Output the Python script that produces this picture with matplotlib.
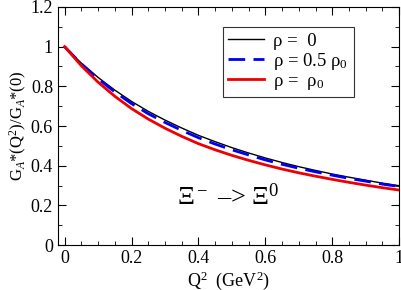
import numpy as np
import matplotlib
matplotlib.use("Agg")
import matplotlib.pyplot as plt
from matplotlib.ticker import MultipleLocator

plt.rcParams['font.family'] = ['Liberation Serif', 'DejaVu Serif']
plt.rcParams['mathtext.fontset'] = 'custom'
plt.rcParams['mathtext.rm'] = 'Liberation Serif'
plt.rcParams['mathtext.it'] = 'Liberation Serif:italic'

# values
q2 = [0.00, 0.05, 0.10, 0.15, 0.20, 0.25, 0.30, 0.35, 0.40, 0.45, 0.50,
      0.55, 0.60, 0.65, 0.70, 0.75, 0.80, 0.85, 0.90, 0.95, 1.00]
ga_rho0 = [1.000, 0.917, 0.845, 0.781, 0.724, 0.674, 0.630, 0.590, 0.553, 0.521, 0.491,
           0.464, 0.439, 0.416, 0.395, 0.376, 0.358, 0.342, 0.327, 0.312, 0.299]
ga_rho05 = [1.000, 0.913, 0.838, 0.772, 0.713, 0.662, 0.618, 0.578, 0.541, 0.509, 0.480,
            0.454, 0.429, 0.407, 0.387, 0.369, 0.352, 0.336, 0.322, 0.307, 0.295]
ga_rho1 = [1.000, 0.904, 0.821, 0.750, 0.688, 0.635, 0.589, 0.548, 0.511, 0.480, 0.452,
           0.427, 0.404, 0.383, 0.364, 0.347, 0.331, 0.316, 0.302, 0.289, 0.277]

labels = [r'ρ =  0', r'ρ = 0.5 ρ$_0$', r'ρ =  ρ$_0$']

fig = plt.figure(figsize=(4.02, 2.90), dpi=100)
ax = fig.add_axes([0.144, 0.155, 0.849, 0.821])

ax.plot(q2, ga_rho0, color='black', lw=1.0, label=labels[0])
ax.plot(q2, ga_rho05, color='#0000ee', lw=2.0, dashes=(6, 3), label=labels[1])
ax.plot(q2, ga_rho1, color='#ee0000', lw=2.0, label=labels[2])

ax.set_xlim(-0.02, 1.0)
ax.set_ylim(0, 1.2)
ax.xaxis.set_minor_locator(MultipleLocator(0.05))
ax.yaxis.set_minor_locator(MultipleLocator(0.1))
ax.set_xticks([0, 0.2, 0.4, 0.6, 0.8, 1.0])
ax.set_xticklabels(['0', '0.2', '0.4', '0.6', '0.8', '1'])
ax.set_yticks([0, 0.2, 0.4, 0.6, 0.8, 1.0, 1.2])
ax.set_yticklabels(['0', '0.2', '0.4', '0.6', '0.8', '1', '1.2'])
ax.tick_params(which='both', direction='in', top=True, right=True, labelsize=13)
ax.tick_params(which='major', length=6)
ax.tick_params(which='minor', length=3)

ax.set_xlabel(r'Q$^2$  (GeV$^2$)', fontsize=13, labelpad=2)
ax.set_ylabel(r'G$_A$*(Q$^2$)/G$_A$*(0)', fontsize=12, labelpad=1)

ax.text(0.335, 0.2, r'Ξ$^-$ –> Ξ$^0$', fontsize=19)

leg = ax.legend(loc='upper right', bbox_to_anchor=(0.895, 0.955), fontsize=13.5,
                frameon=True, fancybox=False, edgecolor='black', handlelength=1.9,
                borderpad=0.3, labelspacing=0.05, handletextpad=0.5)
leg.get_frame().set_linewidth(0.8)

fig.savefig('out.png', dpi=100)
